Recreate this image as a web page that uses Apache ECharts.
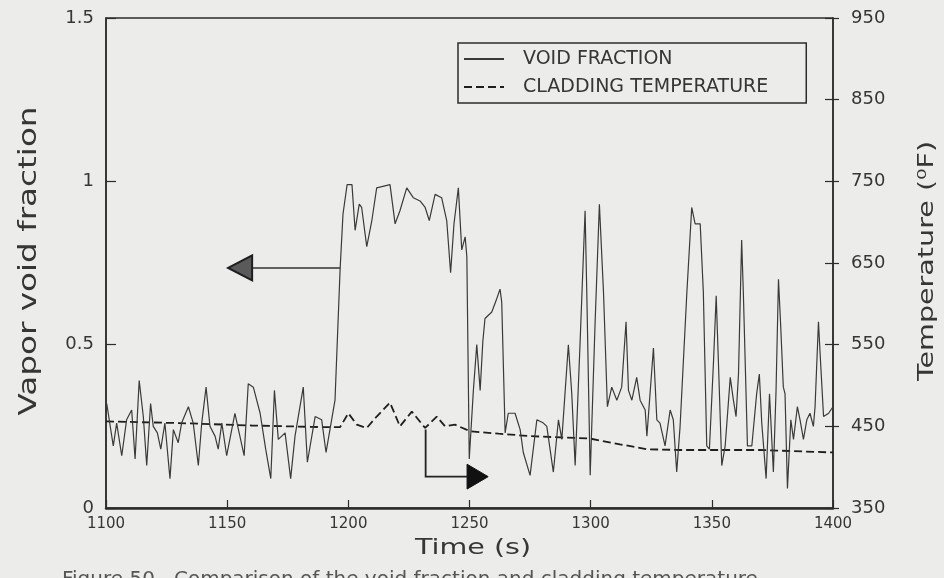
<!DOCTYPE html>
<html>
<head>
<meta charset="utf-8">
<script src="https://cdn.jsdelivr.net/npm/echarts@6/dist/echarts.min.js"></script>
<style>
  html, body { margin: 0; padding: 0; background: #ececea; }
  #chart { width: 944px; height: 578px; }
</style>
</head>
<body>
<div id="chart"></div>
<script>
// Vapor void fraction trace (time in s, fraction)
const voidTime = [
  1100.3, 1103.0, 1104.4, 1106.5, 1108.5, 1110.6, 1112.0, 1113.7, 1115.4, 1116.8,
  1118.4, 1119.5, 1121.2, 1122.6, 1124.3, 1126.4, 1127.8, 1129.8, 1131.2, 1134.0,
  1136.0, 1138.1, 1139.5, 1141.3, 1142.9, 1145.0, 1146.3, 1147.8, 1149.8, 1153.2,
  1157.0, 1158.7, 1160.8, 1163.6, 1165.9, 1168.0, 1169.5, 1171.1, 1173.9, 1176.2,
  1178.0, 1181.4, 1183.1, 1186.3, 1189.0, 1190.8, 1193.1, 1194.5, 1196.6, 1197.8,
  1199.5, 1201.5, 1202.8, 1204.5, 1205.5, 1207.6, 1209.7, 1211.7, 1217.2, 1219.3,
  1221.3, 1224.1, 1226.8, 1229.6, 1231.7, 1233.4, 1235.8, 1238.5, 1240.6, 1242.2,
  1243.6, 1245.4, 1246.8, 1248.2, 1248.9, 1249.9, 1251.6, 1253.0, 1254.4, 1255.5,
  1256.4, 1259.2, 1261.2, 1262.6, 1263.3, 1264.7, 1266.0, 1268.8, 1270.9, 1272.2,
  1275.0, 1277.8, 1280.5, 1281.9, 1284.6, 1286.7, 1288.1, 1290.8, 1292.2, 1293.6,
  1295.6, 1297.7, 1298.4, 1299.8, 1301.8, 1303.6, 1305.3, 1306.9, 1308.7, 1310.8,
  1312.8, 1314.6, 1315.6, 1317.0, 1319.0, 1320.4, 1322.5, 1323.2, 1325.9, 1327.3,
  1328.6, 1330.7, 1332.8, 1334.1, 1335.5, 1336.9, 1339.7, 1341.7, 1343.1, 1345.2,
  1346.5, 1347.9, 1349.0, 1350.7, 1351.8, 1352.7, 1354.1, 1355.5, 1357.6, 1358.9,
  1360.0, 1361.0, 1362.3, 1363.0, 1364.7, 1366.5, 1368.5, 1369.6, 1370.6, 1372.4,
  1373.8, 1375.4, 1376.5, 1377.5, 1378.4, 1379.5, 1380.2, 1381.2, 1382.6, 1383.7,
  1385.3, 1386.4, 1387.8, 1389.2, 1390.5, 1391.9, 1392.6, 1394.0, 1394.7, 1396.1,
  1398.2, 1400.0
];
const voidFraction = [
  0.32, 0.19, 0.26, 0.16, 0.27, 0.30, 0.15, 0.39, 0.28, 0.13,
  0.32, 0.25, 0.23, 0.18, 0.26, 0.09, 0.24, 0.20, 0.26, 0.31,
  0.26, 0.13, 0.26, 0.37, 0.25, 0.22, 0.18, 0.26, 0.16, 0.29,
  0.16, 0.38, 0.37, 0.29, 0.18, 0.09, 0.36, 0.21, 0.23, 0.09,
  0.22, 0.37, 0.14, 0.28, 0.27, 0.17, 0.27, 0.33, 0.73, 0.90,
  0.99, 0.99, 0.85, 0.93, 0.92, 0.80, 0.88, 0.98, 0.99, 0.87,
  0.91, 0.98, 0.95, 0.94, 0.92, 0.88, 0.96, 0.95, 0.88, 0.72,
  0.87, 0.98, 0.79, 0.83, 0.77, 0.15, 0.36, 0.50, 0.36, 0.51,
  0.58, 0.60, 0.64, 0.67, 0.63, 0.23, 0.29, 0.29, 0.24, 0.17,
  0.10, 0.27, 0.26, 0.25, 0.11, 0.27, 0.21, 0.50, 0.35, 0.13,
  0.50, 0.91, 0.66, 0.10, 0.56, 0.93, 0.66, 0.31, 0.37, 0.33,
  0.37, 0.57, 0.36, 0.33, 0.40, 0.33, 0.30, 0.22, 0.49, 0.27,
  0.26, 0.19, 0.30, 0.27, 0.11, 0.25, 0.66, 0.92, 0.87, 0.87,
  0.66, 0.19, 0.18, 0.45, 0.65, 0.45, 0.13, 0.19, 0.40, 0.33,
  0.28, 0.41, 0.82, 0.66, 0.19, 0.19, 0.35, 0.41, 0.26, 0.09,
  0.35, 0.11, 0.36, 0.70, 0.56, 0.37, 0.35, 0.06, 0.27, 0.21,
  0.31, 0.27, 0.21, 0.27, 0.29, 0.25, 0.31, 0.57, 0.47, 0.28,
  0.29, 0.31
];

// Cladding temperature trace (time in s, deg F)
const tempTime = [
  1100, 1130, 1160, 1190, 1196.6, 1200.0, 1203.5, 1207.6, 1211.7, 1217.2,
  1221.3, 1226.2, 1231.7, 1236.5, 1239.9, 1244.0, 1250.2, 1262.0, 1275.0, 1299.8,
  1312.1, 1323.2, 1336.9, 1370.0, 1400.0
];
const cladTemp = [
  456, 454, 451, 449, 449, 466, 452, 448, 462, 479,
  450, 468, 448, 462, 450, 452, 444, 441, 438, 435,
  428, 422, 421, 421, 418
];

// Axis ranges and tick steps
const timeRange = [1100, 1400, 50];
const voidRange = [0, 1.5, 0.5];
const tempRange = [350, 950, 100];

// Annotation arrows, in (time, void fraction) coordinates
const leftArrowShaft = [[1196.6, 0.735], [1160.3, 0.735]];
const leftArrowHead = [[1150.4, 0.735], [1160.3, 0.773], [1160.3, 0.697]];
const rightArrowShaft = [[1231.9, 0.240], [1231.9, 0.096], [1249.0, 0.096]];
const rightArrowHead = [[1257.7, 0.096], [1249.0, 0.134], [1249.0, 0.058]];

const ink = '#2c2c2c';
const textInk = '#363636';
const numFont = '"DejaVu Sans", sans-serif';

const chart = echarts.init(document.getElementById('chart'), null, { renderer: 'canvas' });

const zip = (xs, ys) => xs.map((x, i) => [x, ys[i]]);

chart.setOption({
  backgroundColor: '#ececea',
  animation: false,
  grid: {
    left: 106, right: 111, top: 18, bottom: 70,
    show: true, borderColor: ink, borderWidth: 1.5, backgroundColor: 'transparent'
  },
  legend: {
    orient: 'vertical',
    left: 458, top: 43,
    padding: [6, 38, 6, 5],
    itemGap: 8,
    itemWidth: 40,
    itemHeight: 14,
    borderColor: ink,
    borderWidth: 1.5,
    itemStyle: { opacity: 0 },
    data: ['VOID FRACTION', 'CLADDING TEMPERATURE'],
    textStyle: {
      fontFamily: numFont, fontSize: 19, color: textInk,
      lineHeight: 20, padding: [0, 0, 0, 14]
    }
  },
  xAxis: {
    type: 'value',
    min: timeRange[0], max: timeRange[1], interval: timeRange[2],
    axisLine: { show: true, lineStyle: { color: ink, width: 2.5 } },
    axisTick: { show: true, inside: true, length: 8, lineStyle: { color: ink, width: 1.2 } },
    axisLabel: {
      fontFamily: numFont, fontSize: 15, color: textInk, margin: 9,
      formatter: (v) => String(v)
    },
    splitLine: { show: false }
  },
  yAxis: [
    {
      type: 'value', position: 'left',
      min: voidRange[0], max: voidRange[1], interval: voidRange[2],
      axisLine: { show: true, lineStyle: { color: ink, width: 1.5 } },
      axisTick: { show: true, inside: true, length: 10, lineStyle: { color: ink, width: 1.2 } },
      axisLabel: { fontFamily: numFont, fontSize: 18, color: textInk, margin: 12 },
      splitLine: { show: false }
    },
    {
      type: 'value', position: 'right',
      min: tempRange[0], max: tempRange[1], interval: tempRange[2],
      axisLine: { show: true, lineStyle: { color: ink, width: 1.5 } },
      axisTick: { show: true, inside: true, length: 8, lineStyle: { color: ink, width: 1.2 } },
      axisLabel: { fontFamily: numFont, fontSize: 18, color: textInk, margin: 18 },
      splitLine: { show: false }
    },
    {
      // outer half of the temperature ticks
      type: 'value', position: 'right',
      min: tempRange[0], max: tempRange[1], interval: tempRange[2],
      axisLine: { show: false },
      axisTick: { show: true, inside: false, length: 6, lineStyle: { color: ink, width: 1.2 } },
      axisLabel: { show: false },
      splitLine: { show: false }
    }
  ],
  series: [
    {
      name: 'VOID FRACTION',
      type: 'line',
      yAxisIndex: 0,
      data: zip(voidTime, voidFraction),
      symbol: 'none',
      lineStyle: { color: '#3a3a3a', width: 1.2 },
      itemStyle: { color: '#3a3a3a' },
      z: 3
    },
    {
      name: 'CLADDING TEMPERATURE',
      type: 'line',
      yAxisIndex: 1,
      data: zip(tempTime, cladTemp),
      symbol: 'none',
      lineStyle: { color: '#1e1e1e', width: 1.8, type: [8, 4] },
      itemStyle: { color: '#1e1e1e' },
      z: 2
    }
  ]
});

// Titles, caption and arrows drawn on top of the plot
const toPx = (p) => chart.convertToPixel({ xAxisIndex: 0, yAxisIndex: 0 }, p);

chart.setOption({
  graphic: [
    {
      type: 'text', x: 30, y: 261, rotation: Math.PI / 2, scaleX: 1.36,
      style: { text: 'Vapor void fraction', font: '24px ' + numFont, fill: textInk, align: 'center', verticalAlign: 'middle' }
    },
    {
      type: 'text', x: 928, y: 261, rotation: Math.PI / 2, scaleX: 1.36,
      style: { text: 'Temperature (\u2070F)', font: '21px ' + numFont, fill: textInk, align: 'center', verticalAlign: 'middle' }
    },
    {
      type: 'text', x: 473, y: 549, scaleX: 1.36,
      style: { text: 'Time (s)', font: '21px ' + numFont, fill: textInk, align: 'center', verticalAlign: 'middle' }
    },
    {
      type: 'text', x: 62, y: 570,
      style: { text: 'Figure 50.  Comparison of the void fraction and cladding temperature', font: '20px ' + numFont, fill: '#555', align: 'left', verticalAlign: 'top' }
    },
    {
      type: 'polyline', z: 10,
      shape: { points: leftArrowShaft.map(toPx) },
      style: { stroke: '#333', lineWidth: 1.5, fill: null }
    },
    {
      type: 'polygon', z: 10,
      shape: { points: leftArrowHead.map(toPx) },
      style: { fill: '#5a5a5a', stroke: '#1e1e1e', lineWidth: 2 }
    },
    {
      type: 'polyline', z: 10,
      shape: { points: rightArrowShaft.map(toPx) },
      style: { stroke: '#222', lineWidth: 1.8, fill: null }
    },
    {
      type: 'polygon', z: 10,
      shape: { points: rightArrowHead.map(toPx) },
      style: { fill: '#111', stroke: '#111', lineWidth: 1 }
    }
  ]
});
</script>
</body>
</html>
